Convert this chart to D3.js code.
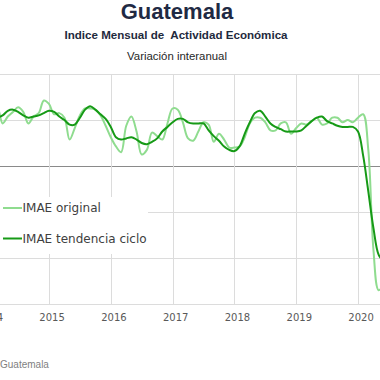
<!DOCTYPE html>
<html>
<head>
<meta charset="utf-8">
<script src="https://cdn.jsdelivr.net/npm/d3@7"></script>
<style>
  body { margin: 0; background: #fff; }
  svg { display: block; }
</style>
</head>
<body>
<script>
// IMAE Guatemala, variacion interanual (%), monthly from Jan 2014
const years = ["2014", "2015", "2016", "2017", "2018", "2019", "2020"];
const seriesNames = ["IMAE original", "IMAE tendencia ciclo"];
const yTicks = [-12, -8, -4, 0, 4, 8];

const imaeOriginal = [
  4.4, 4.7, 5.0, 3.7, 4.3, 4.7, 5.1, 4.7, 3.7, 4.3, 4.6, 5.7,
  5.4, 4.5, 4.6, 4.2, 2.3, 3.3, 4.4, 5.0, 5.0, 4.9, 4.4, 3.5,
  2.5, 1.7, 1.2, 3.5, 4.3, 3.0, 1.0, 1.4, 2.9, 2.6, 2.3, 3.7,
  5.0, 4.9, 3.8, 2.4, 2.2, 3.0, 3.8, 3.6, 2.1, 2.8, 2.3, 1.6,
  1.6, 1.7, 2.5, 3.7, 4.2, 4.2, 3.8, 3.1, 3.1, 3.7, 3.8, 2.8,
  3.3, 3.7, 3.6, 3.9, 4.2, 3.6, 3.7, 4.2, 4.2, 3.8, 4.0, 3.8,
  4.2, 4.5, 1.4, -7.3, -10.8, -10.3
];

const imaeTendencia = [
  4.0, 4.1, 4.2, 4.4, 4.8, 4.9, 4.7, 4.4, 4.2, 4.3, 4.4, 4.6,
  4.8, 4.7, 4.3, 4.0, 3.6, 3.6, 4.2, 4.9, 5.2, 4.9, 4.5, 4.1,
  3.4, 2.5, 2.3, 2.4, 2.5, 2.3, 2.0, 1.9, 2.1, 2.4, 3.0, 3.4,
  3.8, 4.1, 4.1, 3.8, 3.7, 3.7, 3.7, 3.1, 2.6, 2.2, 1.7, 1.4,
  1.3, 1.7, 2.8, 3.8, 4.6, 4.8, 4.3, 3.7, 3.4, 3.2, 3.0, 3.0,
  3.0, 3.1, 3.5, 3.9, 4.2, 4.3, 3.9, 3.7, 3.5, 3.4, 3.4, 3.4,
  3.0, 0.9, -2.2, -5.4, -7.7, -8.3
];

const width = 380, height = 380;
const plotTop = 74, plotBottom = 304;

const svg = d3.select("body").append("svg")
  .attr("width", width)
  .attr("height", height);

// month index -> x (the chart is cropped on both sides)
const x = d3.scaleLinear()
  .domain([0, 72])
  .range([-12.8, 358]);

const y = d3.scaleLinear()
  .domain([-12, 8])
  .range([plotBottom, plotTop]);

// titles
svg.append("text")
  .attr("x", 177).attr("y", 19)
  .attr("text-anchor", "middle")
  .style("font-family", "'Liberation Sans', Arial, sans-serif")
  .style("font-weight", "bold")
  .style("font-size", "22px")
  .style("fill", "#1f2a44")
  .text("Guatemala");

svg.append("text")
  .attr("x", 176).attr("y", 38.5)
  .attr("text-anchor", "middle")
  .style("white-space", "pre")
  .style("font-family", "'Liberation Sans', Arial, sans-serif")
  .style("font-weight", "bold")
  .style("font-size", "11.6px")
  .style("fill", "#1f2a3d")
  .text("Indice Mensual de  Actividad Económica");

svg.append("text")
  .attr("x", 177).attr("y", 59.5)
  .attr("text-anchor", "middle")
  .style("font-family", "'Liberation Sans', Arial, sans-serif")
  .style("font-size", "11.4px")
  .style("fill", "#262626")
  .text("Variación interanual");

// gridlines
const grid = svg.append("g");
grid.selectAll("line.h")
  .data(yTicks)
  .enter().append("line")
  .attr("x1", 0).attr("x2", width)
  .attr("y1", d => Math.round(y(d)) + 0.5)
  .attr("y2", d => Math.round(y(d)) + 0.5)
  .attr("stroke", d => d === 0 ? "#8a8a8a" : "#dcdcdc")
  .attr("stroke-width", 1);

grid.selectAll("line.v")
  .data(years)
  .enter().append("line")
  .attr("x1", (d, i) => Math.round(x(i * 12)) + 0.5)
  .attr("x2", (d, i) => Math.round(x(i * 12)) + 0.5)
  .attr("y1", plotTop)
  .attr("y2", plotBottom)
  .attr("stroke", "#dcdcdc")
  .attr("stroke-width", 1);

// year labels
svg.append("g").selectAll("text")
  .data(years)
  .enter().append("text")
  .attr("x", (d, i) => x(i * 12 + 0.6))
  .attr("y", 321)
  .attr("text-anchor", "middle")
  .style("font-family", "'DejaVu Sans', sans-serif")
  .style("font-size", "10px")
  .style("fill", "#595959")
  .text(d => d);

// lines
const line = d3.line()
  .x((d, i) => x(i))
  .y(d => y(d))
  .curve(d3.curveCatmullRom.alpha(0.5));

svg.append("path")
  .datum(imaeOriginal)
  .attr("fill", "none")
  .attr("stroke", "#8fdc8f")
  .attr("stroke-width", 2)
  .attr("d", line);

svg.append("path")
  .datum(imaeTendencia)
  .attr("fill", "none")
  .attr("stroke", "#169a16")
  .attr("stroke-width", 2)
  .attr("d", line);

// legend
const legend = svg.append("g");
legend.append("rect")
  .attr("x", 0).attr("y", 197)
  .attr("width", 148).attr("height", 57)
  .attr("fill", "#fff");

const legendColors = ["#8fdc8f", "#169a16"];
const legendY = [208, 238.5];
seriesNames.forEach((name, i) => {
  legend.append("line")
    .attr("x1", 3).attr("x2", 22)
    .attr("y1", legendY[i]).attr("y2", legendY[i])
    .attr("stroke", legendColors[i])
    .attr("stroke-width", 2);
  legend.append("text")
    .attr("x", 22.5).attr("y", legendY[i] + 4.3)
    .style("font-family", "'DejaVu Sans', sans-serif")
    .style("font-size", "12px")
    .style("fill", "#404040")
    .text(name);
});

// source
svg.append("text")
  .attr("x", 0).attr("y", 368)
  .style("font-family", "'Liberation Sans', Arial, sans-serif")
  .style("font-size", "10px")
  .style("fill", "#7f7f7f")
  .text("Guatemala");
</script>
</body>
</html>
